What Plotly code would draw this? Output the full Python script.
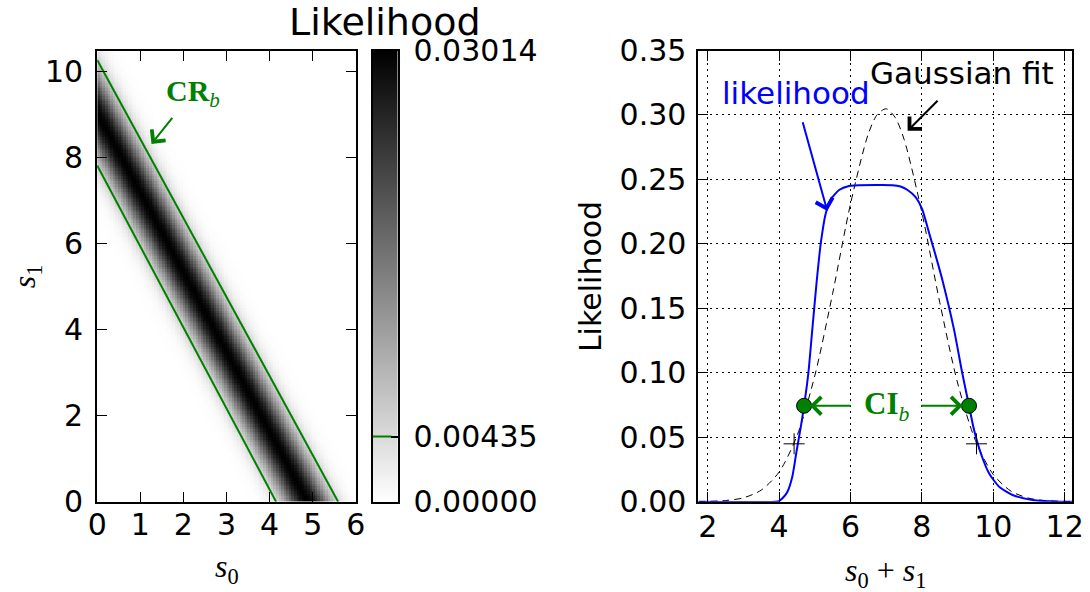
import numpy as np
import plotly.graph_objects as go

# ---------------- data ----------------
# Likelihood across the diagonal band, as a function of the horizontal
# distance (in s0 units) from the band centre line.
BAND_OFFSET = [0.0, 0.1, 0.2, 0.3, 0.4, 0.5, 0.6, 0.7, 0.8, 0.9, 1.0, 1.1, 1.2, 1.4, 1.6, 20.0]
BAND_LIKELIHOOD = [0.03014, 0.02904, 0.02600, 0.02154, 0.01660, 0.01186, 0.00790,
                   0.00484, 0.00280, 0.00147, 0.00070, 0.00033, 0.00014, 0.00002, 0.0, 0.0]
# band centre line: crosses s1 = 0 at s0 = BAND_S0_CROSS, s0 = 0 at s1 = BAND_S1_CROSS
BAND_S0_CROSS = 4.87
BAND_S1_CROSS = 9.035

# confidence-region boundaries CR_b
CR_UPPER_S0 = [0.0, 5.59]
CR_UPPER_S1 = [10.26, 0.0]
CR_LOWER_S0 = [0.0, 4.15]
CR_LOWER_S1 = [7.81, 0.0]

L_MAX = 0.03014
L_THRESHOLD = 0.00435
CB_TICKS = [0.0, 0.00435, 0.03014]
CB_LABELS = ["0.00000", "0.00435", "0.03014"]

# likelihood of s0 + s1
SUM_X = [1.74, 3.90, 4.00, 4.14, 4.23, 4.37, 4.48, 4.61, 4.70, 4.82, 4.93, 5.05, 5.17,
         5.31, 5.45, 5.68, 5.96, 6.24, 6.70, 7.17, 7.40, 7.60, 7.83, 8.01, 8.20, 8.39, 8.57,
         8.90, 9.13, 9.32, 9.46, 9.65, 9.88, 10.16, 10.54, 11.10, 11.85, 12.21]
SUM_LIKELIHOOD = [0.0, 0.0, 0.0005, 0.0040, 0.0075, 0.0194, 0.0376, 0.0583, 0.0744, 0.0998,
                  0.1335, 0.1700, 0.2010, 0.2240, 0.2346, 0.2418, 0.2449, 0.2455, 0.2456,
                  0.2455, 0.2445, 0.2418, 0.2360, 0.2268, 0.2087, 0.1905, 0.1724, 0.1335,
                  0.0998, 0.0744, 0.0558, 0.0376, 0.0221, 0.0117, 0.0052, 0.0013, 0.0, 0.0]

# Gaussian fit
GAUSS_X = [1.74, 2.5, 3.0, 3.5, 4.0, 4.5, 5.0, 5.5, 6.0, 6.5, 6.75, 7.0, 7.25, 7.5,
           8.0, 8.5, 9.0, 9.5, 10.0, 10.5, 11.0, 11.5, 12.21]
GAUSS_Y = [0.0001, 0.0009, 0.0030, 0.0090, 0.0230, 0.0510, 0.0977, 0.1615, 0.2309,
           0.2854, 0.3003, 0.3048, 0.2981, 0.2812, 0.2243, 0.1546, 0.0921, 0.0474,
           0.0211, 0.0081, 0.0027, 0.0008, 0.0001]

# confidence-interval end points and Gaussian reference points
CI_X = [4.70, 9.32]
CI_Y = [0.0744, 0.0744]
PLUS_X = [4.42, 9.53]
PLUS_Y = [0.0449, 0.0449]

# ---------------- styling ----------------
W, H = 1090, 592
FONT = "DejaVu Sans"
SERIF = "Liberation Serif"
GREEN = "#008000"
TICK_SIZE = 30
GRAY_R = [[0.0, "#ffffff"], [1.0, "#000000"]]

LEFT_X = [97.2 / W, 355.8 / W]
RIGHT_X = [698.4 / W, 1072.2 / W]
CBAR_X = [373.0 / W, 397.5 / W]
PLOT_Y = [(H - 501.7) / H, (H - 50.5) / H]

# ---------------- heatmap grid ----------------
step = 0.06
s0 = np.arange(0, 6.0, step) + step / 2
s1 = np.arange(0, 10.5, step) + step / 2
S0, S1 = np.meshgrid(s0, s1)
centre = BAND_S0_CROSS * (1.0 - S1 / BAND_S1_CROSS)
Z = np.interp(np.abs(S0 - centre), BAND_OFFSET, BAND_LIKELIHOOD)

fig = go.Figure()

fig.add_trace(go.Heatmap(x=s0, y=s1, z=Z, colorscale=GRAY_R, zmin=0, zmax=L_MAX,
                         showscale=False, zsmooth=False, hoverinfo="skip",
                         xaxis="x", yaxis="y"))
fig.add_trace(go.Scatter(x=CR_UPPER_S0, y=CR_UPPER_S1, mode="lines",
                         line=dict(color=GREEN, width=2), xaxis="x", yaxis="y",
                         showlegend=False))
fig.add_trace(go.Scatter(x=CR_LOWER_S0, y=CR_LOWER_S1, mode="lines",
                         line=dict(color=GREEN, width=2), xaxis="x", yaxis="y",
                         showlegend=False))

# colour bar as its own small axis
cb_vals = np.linspace(0, L_MAX, 256)
fig.add_trace(go.Heatmap(x=[0.5], y=cb_vals, z=cb_vals.reshape(-1, 1), colorscale=GRAY_R,
                         zmin=0, zmax=L_MAX, showscale=False, hoverinfo="skip",
                         xaxis="x3", yaxis="y3"))
fig.add_trace(go.Scatter(x=[0, 0.75], y=[L_THRESHOLD, L_THRESHOLD], mode="lines",
                         line=dict(color=GREEN, width=2), xaxis="x3", yaxis="y3",
                         showlegend=False))

# right panel
fig.add_trace(go.Scatter(x=GAUSS_X, y=GAUSS_Y, mode="lines",
                         line=dict(color="black", width=1, dash="7px,5px", shape="spline",
                                   smoothing=0.8),
                         xaxis="x2", yaxis="y2", showlegend=False))
fig.add_trace(go.Scatter(x=SUM_X, y=SUM_LIKELIHOOD, mode="lines",
                         line=dict(color="#0000ff", width=2, shape="spline", smoothing=0.6),
                         xaxis="x2", yaxis="y2", showlegend=False))
fig.add_trace(go.Scatter(x=PLUS_X, y=PLUS_Y, mode="markers",
                         marker=dict(symbol="cross-thin", size=15,
                                     line=dict(color="black", width=1)),
                         xaxis="x2", yaxis="y2", showlegend=False))
fig.add_trace(go.Scatter(x=CI_X, y=CI_Y, mode="markers",
                         marker=dict(symbol="circle", size=15, color=GREEN,
                                     line=dict(color="black", width=1)),
                         xaxis="x2", yaxis="y2", showlegend=False))

axis_common = dict(showline=True, linecolor="black", linewidth=2, mirror="ticks",
                   ticks="inside", ticklen=10, tickwidth=1.2, tickcolor="black",
                   showgrid=False, zeroline=False, automargin=False,
                   tickfont=dict(family=FONT, size=TICK_SIZE, color="black"))
grid_common = dict(axis_common, showgrid=True, gridcolor="black", gridwidth=1,
                   griddash="2px,4px")

fig.update_layout(
    width=W, height=H, margin=dict(l=0, r=0, t=0, b=0, autoexpand=False),
    paper_bgcolor="white", plot_bgcolor="white", showlegend=False,
    xaxis=dict(domain=LEFT_X, range=[0, 6], tickvals=[0, 1, 2, 3, 4, 5, 6],
               anchor="y", ticklabelstandoff=-5, **axis_common),
    yaxis=dict(domain=PLOT_Y, range=[0, 10.48], tickvals=[0, 2, 4, 6, 8, 10],
               anchor="x", ticklabelstandoff=6, **axis_common),
    xaxis2=dict(domain=RIGHT_X, range=[1.74, 12.21], tickvals=[2, 4, 6, 8, 10, 12],
                anchor="y2", ticklabelstandoff=-3, **grid_common),
    yaxis2=dict(domain=PLOT_Y, range=[0, 0.35],
                tickvals=[0, 0.05, 0.1, 0.15, 0.2, 0.25, 0.3, 0.35], tickformat=".2f",
                anchor="x2", ticklabelstandoff=4, **grid_common),
    xaxis3=dict(domain=CBAR_X, range=[0, 1], anchor="y3", showline=True, mirror=True,
                linecolor="black", linewidth=2, showticklabels=False, ticks="",
                showgrid=False, zeroline=False, automargin=False),
    yaxis3=dict(domain=PLOT_Y, range=[0, L_MAX], anchor="x3", side="right",
                tickvals=CB_TICKS, ticktext=CB_LABELS, ticks="inside", ticklen=7,
                tickcolor="black", tickwidth=1.5, showline=True, mirror=True,
                linecolor="black", linewidth=2, showgrid=False, zeroline=False,
                ticklabelstandoff=8, automargin=False,
                tickfont=dict(family=FONT, size=TICK_SIZE, color="black")),
)

C = dict(xanchor="center", yanchor="middle", showarrow=False)
ann = []
# axis titles
ann.append(dict(text="<i>s</i><sub>0</sub>", xref="x domain", yref="y domain", x=0.5,
                y=-0.148, font=dict(family=SERIF, size=32, color="black"), **C))
ann.append(dict(text="<i>s</i><sub>1</sub>", xref="x domain", yref="y domain", x=-0.275,
                y=0.5, textangle=-90, font=dict(family=SERIF, size=32, color="black"), **C))
ann.append(dict(text="<i>s</i><sub>0</sub> + <i>s</i><sub>1</sub>", xref="x2 domain",
                yref="y2 domain", x=0.5, y=-0.156,
                font=dict(family=SERIF, size=32, color="black"), **C))
ann.append(dict(text="Likelihood", xref="x2 domain", yref="y2 domain", x=-0.29, y=0.5,
                textangle=-90, font=dict(family=FONT, size=TICK_SIZE, color="black"), **C))
# colour bar title
ann.append(dict(text="Likelihood", xref="x3 domain", yref="paper", x=0.5, y=1 - 22 / H,
                font=dict(family=FONT, size=38, color="black"), **C))

arrow = dict(showarrow=True, arrowhead=4, arrowsize=1.7, arrowwidth=2, standoff=0,
             startstandoff=0, text="")

# CR_b label and arrow
ann.append(dict(text="<b>CR</b><i><sub>b</sub></i>", x=2.23, y=9.50, xref="x", yref="y",
                font=dict(family=SERIF, size=30, color=GREEN), **C))
ann.append(dict(x=1.26, y=8.31, ax=1.77, ay=8.95, xref="x", yref="y",
                axref="x", ayref="y", arrowcolor=GREEN, **arrow))

# right panel labels and arrows
ann.append(dict(text="likelihood", x=4.47, y=0.317, xref="x2", yref="y2",
                font=dict(family=FONT, size=31, color="#0000ff"), **C))
ann.append(dict(x=5.35, y=0.2255, ax=4.65, ay=0.2955, xref="x2", yref="y2",
                axref="x2", ayref="y2", arrowcolor="#0000ff", **arrow))
ann.append(dict(text="Gaussian fit", x=9.13, y=0.3326, xref="x2", yref="y2",
                font=dict(family=FONT, size=31, color="black"), **C))
ann.append(dict(x=7.60, y=0.2877, ax=8.48, ay=0.3122, xref="x2", yref="y2",
                axref="x2", ayref="y2", arrowcolor="black", **arrow))
ann.append(dict(text="<b>CI</b><i><sub>b</sub></i>", x=7.01, y=0.0744, xref="x2",
                yref="y2", font=dict(family=SERIF, size=31, color=GREEN), **C))
ann.append(dict(x=4.86, y=0.0744, ax=6.05, ay=0.0744, xref="x2", yref="y2",
                axref="x2", ayref="y2", arrowcolor=GREEN, **arrow))
ann.append(dict(x=9.14, y=0.0744, ax=7.94, ay=0.0744, xref="x2", yref="y2",
                axref="x2", ayref="y2", arrowcolor=GREEN, **arrow))

fig.update_layout(annotations=ann)
fig.write_html("out.html")
